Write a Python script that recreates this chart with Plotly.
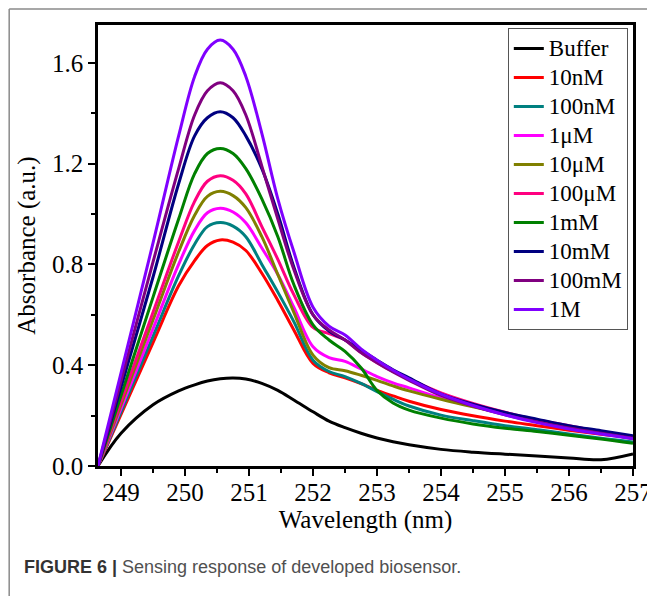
import plotly.graph_objects as go

wavelength = [248.64, 249.0, 249.5, 249.9, 250.15, 250.35, 250.55, 250.75, 250.95, 251.2,
              251.45, 251.7, 252.0, 252.25, 252.5, 252.75, 253.0, 253.25, 253.5, 254.0,
              254.5, 255.0, 255.5, 256.0, 256.5, 257.0]

buffer_ = [0, 0.13, 0.243, 0.298, 0.322, 0.337, 0.346, 0.349, 0.345, 0.328,
           0.30, 0.262, 0.215, 0.178, 0.152, 0.13, 0.111, 0.096, 0.084, 0.066,
           0.055, 0.047, 0.04, 0.032, 0.025, 0.048]
c_10nM = [0, 0.205, 0.49, 0.715, 0.815, 0.875, 0.897, 0.888, 0.855, 0.765,
          0.657, 0.54, 0.407, 0.37, 0.35, 0.327, 0.30, 0.278, 0.257, 0.224,
          0.199, 0.178, 0.16, 0.142, 0.126, 0.112]
c_100nM = [0, 0.215, 0.515, 0.755, 0.88, 0.95, 0.966, 0.952, 0.91, 0.80,
           0.69, 0.573, 0.42, 0.375, 0.355, 0.328, 0.295, 0.265, 0.238, 0.202,
           0.18, 0.16, 0.144, 0.127, 0.11, 0.095]
c_1uM = [0, 0.228, 0.545, 0.80, 0.935, 1.005, 1.023, 1.008, 0.965, 0.865,
         0.76, 0.63, 0.473, 0.43, 0.415, 0.385, 0.355, 0.33, 0.31, 0.27,
         0.237, 0.208, 0.18, 0.155, 0.132, 0.11]
c_10uM = [0, 0.243, 0.58, 0.85, 0.995, 1.07, 1.09, 1.073, 1.025, 0.91,
          0.76, 0.61, 0.44, 0.39, 0.378, 0.36, 0.34, 0.318, 0.298, 0.265,
          0.235, 0.207, 0.18, 0.155, 0.132, 0.108]
c_100uM = [0, 0.257, 0.61, 0.89, 1.05, 1.13, 1.152, 1.134, 1.08, 0.95,
           0.82, 0.68, 0.55, 0.525, 0.50, 0.45, 0.41, 0.375, 0.345, 0.29,
           0.248, 0.213, 0.183, 0.16, 0.136, 0.112]
c_1mM = [0, 0.28, 0.67, 0.98, 1.16, 1.24, 1.26, 1.24, 1.18, 1.06,
         0.91, 0.72, 0.56, 0.50, 0.455, 0.39, 0.30, 0.25, 0.222, 0.19,
         0.167, 0.15, 0.137, 0.122, 0.107, 0.09]
c_10mM = [0, 0.313, 0.75, 1.12, 1.31, 1.382, 1.406, 1.382, 1.31, 1.18,
          1.0, 0.79, 0.60, 0.535, 0.50, 0.46, 0.42, 0.382, 0.35, 0.285,
          0.245, 0.212, 0.186, 0.16, 0.14, 0.12]
c_100mM = [0, 0.338, 0.81, 1.18, 1.393, 1.489, 1.521, 1.489, 1.393, 1.19,
           0.98, 0.78, 0.60, 0.54, 0.50, 0.45, 0.41, 0.373, 0.34, 0.28,
           0.238, 0.203, 0.175, 0.151, 0.13, 0.11]
c_1M = [0, 0.37, 0.885, 1.31, 1.546, 1.654, 1.69, 1.654, 1.546, 1.32,
        1.06, 0.85, 0.63, 0.555, 0.52, 0.465, 0.42, 0.38, 0.345, 0.285,
        0.24, 0.203, 0.172, 0.147, 0.127, 0.108]

series_names = ["Buffer", "10nM", "100nM", "1\u03bcM", "10\u03bcM", "100\u03bcM",
                "1mM", "10mM", "100mM", "1M"]
series_values = [buffer_, c_10nM, c_100nM, c_1uM, c_10uM, c_100uM,
                 c_1mM, c_10mM, c_100mM, c_1M]
series_colors = ["#000000", "#FF0000", "#008080", "#FF00FF", "#808000", "#FF0080",
                 "#008000", "#000080", "#800080", "#8000FF"]

x_ticks = [249, 250, 251, 252, 253, 254, 255, 256, 257]
y_ticks = [0.0, 0.4, 0.8, 1.2, 1.6]

SERIF = "Liberation Serif, Times New Roman, serif"

fig = go.Figure()
for name, vals, col in zip(series_names, series_values, series_colors):
    fig.add_trace(go.Scatter(
        x=wavelength, y=vals, mode="lines",
        name="<span style='font-size:23px'>" + name + "</span>",
        line=dict(color=col, width=3, shape="spline", smoothing=1.0),
    ))

axis_common = dict(
    showline=True, linecolor="black", linewidth=2.5, mirror=True,
    ticks="outside", ticklen=7, tickwidth=2, tickcolor="black",
    showgrid=False, zeroline=False, automargin=False,
    tickfont=dict(family=SERIF, size=25, color="black"),
)

# the page body adds an 8px offset, so the figure is sized to fit the window
fig.update_layout(
    width=647, height=588,
    margin=dict(l=90, r=22, t=17, b=130, autoexpand=False),
    paper_bgcolor="white", plot_bgcolor="white",
    showlegend=True,
    legend=dict(
        x=0.766, y=0.993, xanchor="left", yanchor="top",
        bgcolor="white", bordercolor="#555555", borderwidth=1,
        font=dict(family=SERIF, size=20, color="black"),
        tracegroupgap=0,
    ),
    xaxis=dict(
        range=[248.64, 257], tickvals=x_ticks, ticklabelstandoff=-5,
        minor=dict(dtick=0.5, tick0=249, ticks="outside", ticklen=4,
                   tickwidth=2, tickcolor="black"),
        title=dict(text="Wavelength (nm)", standoff=1,
                   font=dict(family=SERIF, size=25, color="black")),
        **axis_common,
    ),
    yaxis=dict(
        range=[0, 1.75], tickvals=y_ticks, tickformat=".1f",
        minor=dict(dtick=0.2, tick0=0, ticks="outside", ticklen=4,
                   tickwidth=2, tickcolor="black"),
        title=dict(text="Absorbance (a.u.)", standoff=10,
                   font=dict(family=SERIF, size=25, color="black")),
        **axis_common,
    ),
)

# outer figure frame (top and left edges visible)
fig.add_shape(type="line", xref="paper", yref="paper",
              x0=-0.166, x1=1.05, y0=1.036, y1=1.036,
              line=dict(color="#8a8a8a", width=1.5))
fig.add_shape(type="line", xref="paper", yref="paper",
              x0=-0.166, x1=-0.166, y0=1.036, y1=-0.31,
              line=dict(color="#8a8a8a", width=1.5))

fig.add_annotation(
    xref="paper", yref="paper", x=-0.142, y=-0.229,
    xanchor="left", yanchor="middle", showarrow=False,
    text="<b><span style='color:#333333'>FIGURE 6 |</span></b> Sensing response of developed biosensor.",
    font=dict(family="Liberation Sans, Arial, sans-serif", size=18, color="#505050"),
)

fig.write_html("out.html")
